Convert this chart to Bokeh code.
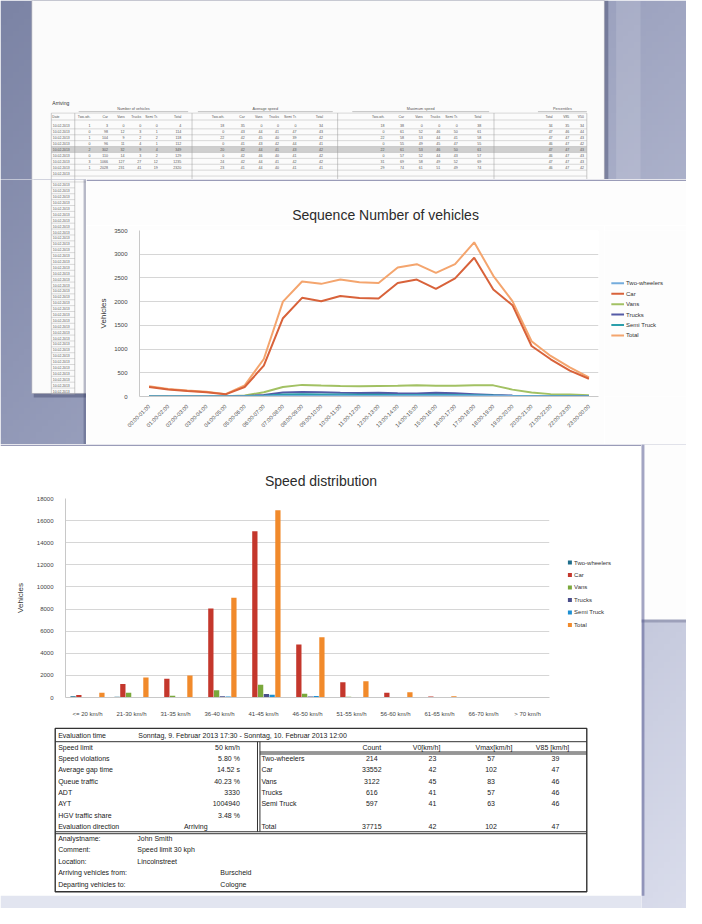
import math
import numpy as np
from bokeh.plotting import figure
from bokeh.layouts import column, row
from bokeh.models import Range1d, FactorRange, FixedTicker, ColumnDataSource
from bokeh.transform import dodge
from bokeh.core.properties import value
from bokeh.embed import file_html
from bokeh.resources import INLINE

FONT = "Liberation Sans"

# ------------------------------------------------------------------ data: sequence chart
hours = ["00:00-01:00", "01:00-02:00", "02:00-03:00", "03:00-04:00", "04:00-05:00",
         "05:00-06:00", "06:00-07:00", "07:00-08:00", "08:00-09:00", "09:00-10:00",
         "10:00-11:00", "11:00-12:00", "12:00-13:00", "13:00-14:00", "14:00-15:00",
         "15:00-16:00", "16:00-17:00", "17:00-18:00", "18:00-19:00", "19:00-20:00",
         "20:00-21:00", "21:00-22:00", "22:00-23:00", "23:00-00:00"]
seq_two_wheelers = [0, 0, 0, 0, 0, 1, 3, 8, 10, 12, 14, 12, 13, 14, 15, 14, 14, 15, 12, 8, 5, 3, 2, 1]
seq_car = [200, 150, 118, 88, 45, 200, 650, 1650, 2080, 2010, 2120, 2075, 2065, 2395, 2465,
           2270, 2490, 2925, 2255, 1925, 1065, 785, 545, 375]
seq_vans = [12, 8, 6, 5, 4, 20, 90, 200, 245, 230, 220, 215, 220, 225, 235, 225, 225, 235,
            235, 145, 85, 50, 40, 25]
seq_trucks = [2, 2, 2, 2, 1, 8, 30, 85, 95, 90, 80, 75, 80, 70, 65, 80, 70, 50, 30, 20, 12, 8, 5, 3]
seq_semi = [1, 1, 1, 1, 1, 3, 15, 40, 45, 40, 40, 35, 35, 30, 30, 35, 30, 25, 20, 12, 8, 5, 3, 2]
seq_total = [215, 160, 128, 98, 50, 235, 790, 2000, 2425, 2375, 2465, 2410, 2395, 2720, 2790,
             2605, 2790, 3250, 2545, 2010, 1165, 855, 615, 405]
seq_ticks = [0, 500, 1000, 1500, 2000, 2500, 3000, 3500]
seq_title = "Sequence Number of vehicles"

series_names = ["Two-wheelers", "Car", "Vans", "Trucks", "Semi Truck", "Total"]
line_colors = ["#74acdc", "#d8623a", "#a2c163", "#545aa6", "#2b9fab", "#f4a56e"]

# ------------------------------------------------------------------ data: speed distribution
speed_classes = ["<= 20 km/h", "21-30 km/h", "31-35 km/h", "36-40 km/h", "41-45 km/h",
                 "46-50 km/h", "51-55 km/h", "56-60 km/h", "61-65 km/h", "66-70 km/h", "> 70 km/h"]
speed_two_wheelers = [110, 60, 25, 10, 5, 3, 1, 0, 0, 0, 0]
speed_car = [220, 1220, 1690, 8040, 15030, 4800, 1370, 420, 80, 20, 5]
speed_vans = [30, 420, 150, 660, 1160, 330, 70, 30, 10, 5, 0]
speed_trucks = [10, 40, 30, 110, 320, 80, 15, 5, 2, 0, 0]
speed_semi = [5, 30, 25, 90, 260, 130, 35, 15, 5, 2, 0]
speed_total = [420, 1810, 1990, 9020, 16930, 5460, 1460, 480, 120, 30, 10]
bar_ticks = [0, 2000, 4000, 6000, 8000, 10000, 12000, 14000, 16000, 18000]
bar_title = "Speed distribution"
bar_colors = ["#1f6e8c", "#c4372c", "#7aa83b", "#4a4e8a", "#1d8fd2", "#f18a2b"]

# ------------------------------------------------------------------ data: evaluation table
eval_label = "Evaluation time"
eval_value = "Sonntag, 9. Februar 2013 17:30  -  Sonntag, 10. Februar 2013 12:00"
summary_labels = ["Speed limit", "Speed violations", "Average gap time", "Queue traffic",
                  "ADT", "AYT", "HGV traffic share", "Evaluation direction"]
summary_values = ["50 km/h", "5.80 %", "14.52 s", "40.23 %", "3330", "1004940", "3.48 %", "Arriving"]
class_header = ["Count", "V0[km/h]", "Vmax[km/h]", "V85 [km/h]"]
class_names = ["Two-wheelers", "Car", "Vans", "Trucks", "Semi Truck", "", "Total"]
class_count = ["214", "33552", "3122", "616", "597", "", "37715"]
class_v0 = ["23", "42", "45", "41", "41", "", "42"]
class_vmax = ["57", "102", "83", "57", "63", "", "102"]
class_v85 = ["39", "47", "46", "46", "46", "", "47"]
info_labels = ["Analystname:", "Comment:", "Location:", "Arriving vehicles from:", "Departing vehicles to:"]
info_values = ["John Smith", "Speed limit 30 kph", "Lincolnstreet", "Burscheid", "Cologne"]

# ------------------------------------------------------------------ data: back page table
back_title = "Arriving"
back_groups = ["Number of vehicles", "Average speed", "Maximum speed", "Percentiles"]
back_cols = ["Two-wh.", "Car", "Vans", "Trucks", "Semi Tr.", "Total"]
back_rows = [
    [1, 3, 0, 0, 0, 4, 18, 35, 0, 0, 0, 34, 18, 38, 0, 0, 0, 38, 34, 35, 34],
    [0, 98, 12, 3, 1, 114, 0, 43, 44, 41, 47, 43, 0, 61, 52, 46, 50, 61, 47, 46, 44],
    [1, 104, 9, 2, 2, 118, 22, 42, 45, 40, 39, 42, 22, 58, 53, 44, 41, 58, 47, 47, 43],
    [0, 96, 11, 4, 1, 112, 0, 41, 43, 42, 44, 41, 0, 55, 49, 45, 47, 55, 46, 47, 42],
    [2, 302, 32, 9, 4, 349, 20, 42, 44, 41, 43, 42, 22, 61, 53, 46, 50, 61, 47, 47, 43],
    [0, 110, 14, 3, 2, 129, 0, 42, 46, 40, 41, 42, 0, 57, 52, 44, 43, 57, 46, 47, 43],
    [3, 1066, 127, 27, 12, 1235, 24, 42, 44, 41, 42, 42, 31, 69, 58, 49, 52, 69, 47, 47, 43],
    [1, 2028, 231, 41, 19, 2320, 23, 41, 44, 40, 41, 41, 29, 74, 61, 51, 49, 74, 46, 47, 42],
]
back_date = "10.02.2013"

# the 702x924 scene is drawn into 686x908 pixels (page margin), keeping reference coordinates
SX, SY = 686 / 702, 908 / 924


def pw(a, b):
    return round(b * SX) - round(a * SX)


def ph(a, b):
    return round(b * SY) - round(a * SY)


# ------------------------------------------------------------------ background gradient (decoration)
GH, GW = 154, 117
yy, xx = np.mgrid[0:GH, 0:GW]
fx = (xx / (GW - 1))[..., None]
fy = (yy / (GH - 1))[..., None]
TL = np.array([124, 132, 165]); TR = np.array([160, 166, 194])
BL = np.array([170, 176, 204]); BR = np.array([218, 221, 236])
col = TL * (1 - fx) * (1 - fy) + TR * fx * (1 - fy) + BL * (1 - fx) * fy + BR * fx * fy
img = np.empty((GH, GW), dtype=np.uint32)
view = img.view(dtype=np.uint8).reshape((GH, GW, 4))
view[..., 0] = col[..., 0].astype(np.uint8)
view[..., 1] = col[..., 1].astype(np.uint8)
view[..., 2] = col[..., 2].astype(np.uint8)
view[..., 3] = 255


def tile(x0, x1, y0, y1, fill="white"):
    """a scenery figure whose data coordinates are the reference picture's pixels"""
    p = figure(width=pw(x0, x1), height=ph(y0, y1), x_range=Range1d(x0, x1), y_range=Range1d(y1, y0),
               output_backend="svg", toolbar_location=None,
               min_border_left=0, min_border_right=0, min_border_top=0, min_border_bottom=0,
               x_axis_location=None, y_axis_location=None, outline_line_color=None,
               background_fill_color=fill, border_fill_color=fill)
    p.grid.visible = False
    return p


def draw_bg(p):
    p.image_rgba(image=[img], x=0, y=0, dw=702, dh=924)


def draw_back_page(p, ylo, yhi, numbers=True):
    p.quad(left=[34], right=[622], top=[0], bottom=[404], fill_color="#2c3156", fill_alpha=0.35, line_color=None)
    p.quad(left=[32], right=[618], top=[0], bottom=[400], fill_color="#fbfbfb", line_color="#9a9aa8", line_width=0.6)
    bx_cols = [92, 110, 127, 144, 161, 185, 229, 250, 268, 285, 303, 330,
               393, 413, 432, 450, 468, 492, 565, 582, 597]
    g_spans = [(80, 192), (202, 340), (360, 500), (550, 600)]
    row0, rstep = 127.5, 6.0
    n_date_rows = 46
    if numbers:
        p.text(x=[(a + b) / 2 for a, b in g_spans], y=[110.5] * 4, text=back_groups,
               text_font=value(FONT), text_font_size="3.8px", text_align="center",
               text_baseline="middle", text_color="#555")
        p.segment(x0=[a for a, b in g_spans], x1=[b for a, b in g_spans], y0=[113] * 4, y1=[113] * 4,
                  line_color="#888", line_width=0.5)
        ht = [back_cols[ci % 6] if ci < 18 else ["Total", "V85", "V50"][ci - 18] for ci in range(len(bx_cols))]
        p.text(x=bx_cols, y=[118.5] * len(bx_cols), text=ht, text_font=value(FONT), text_font_size="3.4px",
               text_align="right", text_baseline="middle", text_color="#555")
        p.text(x=[53], y=[118.5], text=["Date"], text_font=value(FONT), text_font_size="3.4px",
               text_align="left", text_baseline="middle", text_color="#555")
        p.text(x=[53], y=[104.5], text=[back_title], text_font=value(FONT), text_font_size="5px",
               text_align="left", text_baseline="middle", text_color="#333")
        p.quad(left=[52], right=[600], top=[row0 + 4 * rstep - 3], bottom=[row0 + 4 * rstep + 3],
               fill_color="#cfcfcf", line_color=None)
        nx, ny, nt = [], [], []
        for ri, r in enumerate(back_rows):
            for ci, v in enumerate(r):
                nx.append(bx_cols[ci]); ny.append(row0 + ri * rstep); nt.append(str(v))
        p.text(x=nx, y=ny, text=nt, text_font=value(FONT), text_font_size="3.6px",
               text_align="right", text_baseline="middle", text_color="#555")
    dys = [row0 + k * rstep for k in range(n_date_rows) if ylo + 2.5 < row0 + k * rstep < yhi - 2.5]
    p.text(x=[53.5] * len(dys), y=dys, text=[back_date] * len(dys), text_font=value(FONT),
           text_font_size="3.4px", text_align="left", text_baseline="middle", text_color="#555")
    hl_y = [114.5, 121.5] + [row0 + k * rstep + 3 for k in range(n_date_rows)]
    hl_x1 = [600, 600] + [600 if row0 + k * rstep < 185 else 76 for k in range(n_date_rows)]
    p.segment(x0=[52] * len(hl_y), x1=hl_x1, y0=hl_y, y1=hl_y, line_color="#b5b5b5", line_width=0.5)
    vl_x = [52, 76, 196, 345, 505, 600]
    yb = row0 + (n_date_rows - 1) * rstep + 3
    p.segment(x0=vl_x, x1=vl_x, y0=[114.5] * 6, y1=[yb, yb, 182, 182, 182, 182],
              line_color="#999", line_width=0.5)


def style_chart(p, ticks, xlabel_size, xlabel_orient, ylabel_standoff):
    p.xgrid.visible = False
    p.ygrid.grid_line_color = "#d6d6d6"
    p.yaxis.ticker = FixedTicker(ticks=ticks)
    p.yaxis.axis_label = "Vehicles"
    p.yaxis.axis_label_text_font = FONT
    p.yaxis.axis_label_text_font_size = "8px"
    p.yaxis.axis_label_text_font_style = "normal"
    p.yaxis.axis_label_text_color = "#333"
    p.yaxis.axis_label_standoff = ylabel_standoff
    p.yaxis.major_label_standoff = 6
    if xlabel_orient:
        p.xaxis.major_label_orientation = xlabel_orient
        p.xaxis.major_label_standoff = 3
    else:
        p.xaxis.major_label_standoff = 7
    for ax in p.axis:
        ax.major_label_text_font = FONT
        ax.major_label_text_color = "#444"
        ax.major_tick_line_color = None
        ax.minor_tick_line_color = None
        ax.axis_line_color = "#c8c8c8"
    p.yaxis.major_label_text_font_size = "6px"
    p.xaxis.major_label_text_font_size = xlabel_size


# ================================================================== top strip (back page)
top = tile(0, 702, 0, 182)
draw_bg(top)
top.quad(left=[630], right=[655], top=[0], bottom=[185], fill_color="white", fill_alpha=0.13, line_color=None)
draw_back_page(top, 0, 182, numbers=True)

# ================================================================== left strip beside the line page
left = tile(0, 88, 182, 452)
draw_bg(left)
draw_back_page(left, 182, 452, numbers=False)
left.quad(left=[85], right=[88], top=[182], bottom=[452], fill_color="#3a3f66", fill_alpha=0.35, line_color=None)

# ================================================================== line chart page
line_head = tile(88, 702, 182, 229, fill="#fdfdfd")
line_head.text(x=[394], y=[218], text=[seq_title], text_font=value(FONT), text_font_size="14px",
               text_align="center", text_baseline="middle", text_color="#2b2b2b")
line_head.quad(left=[88], right=[702], top=[182], bottom=[183.5], fill_color="#9a9cb8", line_color=None)

lf_w, lf_h = pw(88, 618), ph(229, 452)
lf_l, lf_r = pw(88, 142), pw(612, 618)
lf_t, lf_b = ph(229, 234), ph(403, 452)
line_fig = figure(width=lf_w, height=lf_h, x_range=FactorRange(factors=hours),
                  y_range=Range1d(0, 3500), output_backend="svg", toolbar_location=None,
                  min_border_left=lf_l, min_border_right=lf_r, min_border_top=lf_t, min_border_bottom=lf_b,
                  background_fill_color="white", border_fill_color="#fdfdfd", outline_line_color=None)
style_chart(line_fig, seq_ticks, "5.5px", math.pi / 4, 3)
seq_src = ColumnDataSource(dict(hour=hours, two=seq_two_wheelers, car=seq_car, vans=seq_vans,
                                trucks=seq_trucks, semi=seq_semi, total=seq_total))
keys = ["two", "car", "vans", "trucks", "semi", "total"]
for k in ["vans", "trucks", "semi", "two", "total", "car"]:
    i = keys.index(k)
    line_fig.line("hour", k, source=seq_src, line_color=line_colors[i], line_width=2)

line_leg = tile(618, 702, 229, 452, fill="#fdfdfd")
leg_y1 = [300 + 14 * i for i in range(len(series_names))]
line_leg.segment(x0=[625] * 6, x1=[638] * 6, y0=leg_y1, y1=leg_y1, line_color=line_colors, line_width=2)
line_leg.text(x=[640] * 6, y=leg_y1, text=series_names, text_font=value(FONT), text_font_size="6px",
              text_align="left", text_baseline="middle", text_color="#333")

# ================================================================== speed distribution page
bar_head = tile(0, 656, 452, 502)
bar_head.text(x=[328], y=[489], text=[bar_title], text_font=value(FONT), text_font_size="14px",
              text_align="center", text_baseline="middle", text_color="#2b2b2b")
bar_head.quad(left=[0], right=[660], top=[452], bottom=[453.5], fill_color="#9a9cb8", line_color=None)

bf_w, bf_h = pw(0, 570), ph(502, 735)
bf_l, bf_r = pw(0, 67), pw(562, 570)
bf_t, bf_b = ph(502, 507), ph(709, 735)
bar_fig = figure(width=bf_w, height=bf_h, x_range=FactorRange(factors=speed_classes),
                 y_range=Range1d(0, 18000), output_backend="svg", toolbar_location=None,
                 min_border_left=bf_l, min_border_right=bf_r, min_border_top=bf_t, min_border_bottom=bf_b,
                 background_fill_color="white", border_fill_color="white", outline_line_color=None)
style_chart(bar_fig, bar_ticks, "6px", None, 9)
spd_src = ColumnDataSource(dict(cls=speed_classes, two=speed_two_wheelers, car=speed_car,
                                vans=speed_vans, trucks=speed_trucks, semi=speed_semi,
                                total=speed_total))
offsets = [-0.3275, -0.1965, -0.0655, 0.0655, 0.1965, 0.3275]
for i, k in enumerate(keys):
    bar_fig.vbar(x=dodge("cls", offsets[i], range=bar_fig.x_range), top=k, width=0.12,
                 source=spd_src, fill_color=bar_colors[i], line_color=None)

bar_leg = tile(570, 656, 502, 735)
leg_y2 = [577 + 14.6 * i for i in range(len(series_names))]
bar_leg.scatter(x=[582.7] * 6, y=leg_y2, marker="square", size=4, fill_color=bar_colors, line_color=None)
bar_leg.text(x=[587] * 6, y=leg_y2, text=series_names, text_font=value(FONT), text_font_size="6px",
             text_align="left", text_baseline="middle", text_color="#333")

# ================================================================== evaluation table (lower part of the page)
tab = tile(0, 656, 735, 924)
tab.quad(left=[0], right=[660], top=[911], bottom=[924], fill_color="#e2e5f0", line_color=None)
tab.quad(left=[56], right=[600], top=[741], bottom=[907], fill_color=None,
         line_color="#333", line_width=1.4)
seg_x0 = [56, 263, 265.5, 265.5, 265.5, 56, 56]
seg_x1 = [600, 263, 265.5, 600, 600, 600, 600]
seg_y0 = [754.5, 754.5, 754.5, 765, 767, 846, 848]
seg_y1 = [754.5, 846, 846, 765, 767, 846, 848]
tab.segment(x0=seg_x0, x1=seg_x1, y0=seg_y0, y1=seg_y1, line_color="#333", line_width=1)

row_step = 11.55
tx, ty, tt, ta = [], [], [], []
tx += [59, 141]; ty += [748, 748]; tt += [eval_label, eval_value]; ta += ["left", "left"]
for k, (lab, val) in enumerate(zip(summary_labels, summary_values)):
    y = 760 + k * row_step
    tx += [59, 212 if k == 7 else 245]; ty += [y, y]; tt += [lab, val]; ta += ["left", "right"]
head_x = [380, 436, 505, 565]
for hx_, h in zip(head_x, class_header):
    tx.append(hx_); ty.append(760); tt.append(h); ta.append("center")
val_x = [380, 442, 502, 568]
for k in range(len(class_names)):
    y = 760 + (k + 1) * row_step
    tx.append(267); ty.append(y); tt.append(class_names[k]); ta.append("left")
    for vx_, vals in zip(val_x, [class_count, class_v0, class_vmax, class_v85]):
        tx.append(vx_); ty.append(y); tt.append(vals[k]); ta.append("center")
for k, (lab, val) in enumerate(zip(info_labels, info_values)):
    y = 853 + k * row_step
    tx += [59, 140 if k < 3 else 225]; ty += [y, y]; tt += [lab, val]; ta += ["left", "left"]
tab_src = ColumnDataSource(dict(x=tx, y=ty, t=tt, a=ta))
tab.text(x="x", y="y", text="t", text_align="a", source=tab_src, text_font=value(FONT),
         text_font_size="7px", text_baseline="middle", text_color="#222")

# ================================================================== right strip beside the front page
right = tile(656, 702, 452, 924)
draw_bg(right)
right.quad(left=[650], right=[710], top=[440], bottom=[633], fill_color="#3a3f66", fill_alpha=0.3, line_color=None)
right.quad(left=[650], right=[710], top=[440], bottom=[630], fill_color="#fdfdfd", line_color=None)
right.quad(left=[656], right=[659], top=[452], bottom=[911], fill_color="#5a5c94", fill_alpha=0.55, line_color=None)

# ================================================================== compose
line_block = column(line_head, row(line_fig, line_leg))
front = column(bar_head, row(bar_fig, bar_leg), tab)
root = column(top, row(left, line_block), row(front, right))

open("out.html", "w").write(file_html(root, INLINE))
